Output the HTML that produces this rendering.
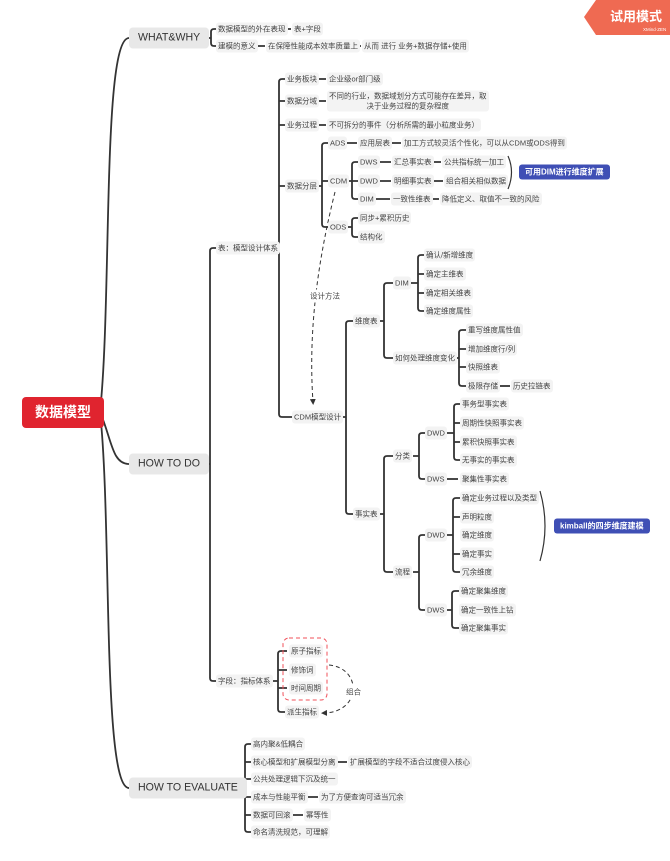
<!DOCTYPE html>
<html><head><meta charset="utf-8"><style>
html,body{margin:0;padding:0;background:#fff;}
#c{position:relative;width:670px;height:861px;overflow:hidden;font-family:"Liberation Sans","Noto Sans CJK SC",sans-serif;}
svg{position:absolute;left:0;top:0;}
.n{position:absolute;transform:translateY(-50%);font-size:7.5px;line-height:13px;padding:0 2px;background:#f3f3f3;border-radius:3px;color:#444;white-space:nowrap;}
.m{position:absolute;transform:translateY(-50%);font-size:10.6px;line-height:21px;padding:0 9px;background:#e8e8e8;border-radius:4px;color:#333;white-space:nowrap;}
.b{position:absolute;transform:translateY(-50%);font-size:8px;font-weight:bold;line-height:15px;padding:0 6px;background:#3f4fb5;border-radius:3px;color:#fff;white-space:nowrap;}
</style></head><body><div id="c">
<svg width="670" height="861" viewBox="0 0 670 861">
<defs><marker id="ar" markerWidth="6" markerHeight="6" refX="3" refY="3" orient="auto"><path d="M0,0 L6,3 L0,6 z" fill="#333"/></marker></defs>
<g fill="none" stroke="#333" stroke-width="1.8">
<path d="M100 412 C112 300,102 38,129 38"/>
<path d="M100 412 C112 440,112 464,129 464"/>
<path d="M100 412 C112 520,102 788,129 788"/>
<path d="M204 38 H211 M216 29 H214 Q211 29 211 32 V43 Q211 46 214 46 H216"/>
<path d="M278 29 H291 M251 46 H265 M348 46 H361"/>
<path d="M205 464 H210 M216 248 H213 Q210 248 210 251 V678 Q210 681 213 681 H216"/>
<path d="M274 248 H279 M285 79 H282 Q279 79 279 82 V414 Q279 417 282 417 H292 M279 101 H285 M279 125 H285 M279 186 H285"/>
<path d="M315 79 H326 M315 101 H326 M315 125 H326"/>
<path d="M316 186 H322 M328 143 H325 Q322 143 322 146 V224 Q322 227 325 227 H328 M322 181 H328"/>
<path d="M343 143 H357 M390 143 H401"/>
<path d="M346 181 H352 M358 162 H355 Q352 162 352 165 V196 Q352 199 355 199 H358 M352 181 H358"/>
<path d="M378 162 H391 M431 162 H441 M378 181 H391 M431 181 H443 M374 199 H390 M430 199 H439"/>
<path d="M346 227 H352 M358 218 H355 Q352 218 352 221 V234 Q352 237 355 237 H358"/>
<path d="M340 417 H346 M353 321 H349 Q346 321 346 324 V511 Q346 514 349 514 H353"/>
<path d="M378 321 H384 M393 283 H387 Q384 283 384 286 V355 Q384 358 387 358 H393"/>
<path d="M410 283 H418 M424 255 H421 Q418 255 418 258 V308 Q418 311 421 311 H424 M418 274 H424 M418 293 H424"/>
<path d="M452 358 H459 M466 330 H462 Q459 330 459 333 V383 Q459 386 462 386 H466 M459 349 H466 M459 367 H466"/>
<path d="M499 386 H510"/>
<path d="M378 514 H384 M393 456 H387 Q384 456 384 459 V569 Q384 572 387 572 H393"/>
<path d="M413 456 H419 M425 433 H422 Q419 433 419 436 V476 Q419 479 422 479 H425"/>
<path d="M446 433 H454 M460 404 H457 Q454 404 454 407 V457 Q454 460 457 460 H460 M454 423 H460 M454 442 H460"/>
<path d="M446 479 H458"/>
<path d="M413 572 H419 M425 535 H422 Q419 535 419 538 V607 Q419 610 422 610 H425"/>
<path d="M446 535 H453 M460 498 H456 Q453 498 453 501 V569 Q453 572 456 572 H460 M453 517 H460 M453 554 H460"/>
<path d="M445 610 H452 M459 591 H455 Q452 591 452 594 V625 Q452 628 455 628 H459"/>
<path d="M272 681 H278 M287 651 H281 Q278 651 278 654 V709 Q278 712 281 712 H285 M278 670 H287 M278 688 H287"/>
<path d="M238 788 H245 M251 744 H248 Q245 744 245 747 V829 Q245 832 248 832 H251 M245 762 H251 M245 779 H251 M245 797 H251 M245 815 H251"/>
<path d="M334 762 H347 M304 797 H318 M291 815 H303"/>
</g>
<g fill="none" stroke="#333" stroke-width="1.2">
<path d="M508 156 Q515 172 508 189"/>
<path d="M540 491 Q550 526 540 561"/>
</g>
<path d="M335 192 C318 260,308 330,313 402" fill="none" stroke="#333" stroke-width="1" stroke-dasharray="4,3" marker-end="url(#ar)"/>
<path d="M329 665 C362 668,362 712,324 713" fill="none" stroke="#333" stroke-width="1" stroke-dasharray="4,3" marker-end="url(#ar)"/>
<rect x="283" y="638" width="44" height="62" rx="6" fill="none" stroke="#f0505a" stroke-width="1" stroke-dasharray="4,3"/>
<path d="M596 0 H670 V35 H596 L584 17 Z" fill="#ef6a52"/>
<text x="610" y="21" font-size="13" fill="#fff" font-family="Noto Sans CJK SC,sans-serif" font-weight="bold">试用模式</text>
<text x="643" y="31" font-size="4.5" fill="#fff" font-family="Liberation Sans,sans-serif">XMind·ZEN</text>
</svg>
<div style="position:absolute;left:22px;top:397px;width:82px;height:31px;background:#e0242f;border-radius:4px;color:#fff;font-weight:bold;font-size:14px;line-height:31px;text-align:center;font-family:'Noto Sans CJK SC',sans-serif;">数据模型</div>
<div class="m" style="left:129px;top:38px">WHAT&amp;WHY</div>
<div class="m" style="left:129px;top:464px">HOW TO DO</div>
<div class="m" style="left:129px;top:788px">HOW TO EVALUATE</div>

<div class="n" style="left:216px;top:29px">数据模型的外在表现</div>
<div class="n" style="left:292px;top:29px">表+字段</div>
<div class="n" style="left:216px;top:46px">建模的意义</div>
<div class="n" style="left:266px;top:46px">在保障性能成本效率质量上</div>
<div class="n" style="left:362px;top:46px">从而 进行 业务+数据存储+使用</div>

<div class="n" style="left:216px;top:248px">表：模型设计体系</div>
<div class="n" style="left:285px;top:79px">业务板块</div>
<div class="n" style="left:327px;top:79px">企业级or部门级</div>
<div class="n" style="left:285px;top:101px">数据分域</div>
<div class="n" style="left:327px;top:101px;line-height:9.5px;padding:1px 2px;text-align:center">不同的行业，数据域划分方式可能存在差异，取<br>决于业务过程的复杂程度</div>
<div class="n" style="left:285px;top:125px">业务过程</div>
<div class="n" style="left:327px;top:125px">不可拆分的事件（分析所需的最小粒度业务）</div>
<div class="n" style="left:285px;top:186px">数据分层</div>
<div class="n" style="left:328px;top:143px">ADS</div>
<div class="n" style="left:358px;top:143px">应用层表</div>
<div class="n" style="left:402px;top:143px">加工方式较灵活个性化，可以从CDM或ODS得到</div>
<div class="n" style="left:328px;top:181px">CDM</div>
<div class="n" style="left:358px;top:162px">DWS</div>
<div class="n" style="left:392px;top:162px">汇总事实表</div>
<div class="n" style="left:442px;top:162px">公共指标统一加工</div>
<div class="n" style="left:358px;top:181px">DWD</div>
<div class="n" style="left:392px;top:181px">明细事实表</div>
<div class="n" style="left:444px;top:181px">组合相关相似数据</div>
<div class="n" style="left:358px;top:199px">DIM</div>
<div class="n" style="left:391px;top:199px">一致性维表</div>
<div class="n" style="left:440px;top:199px">降低定义、取值不一致的风险</div>
<div class="b" style="left:519px;top:172px">可用DIM进行维度扩展</div>
<div class="n" style="left:328px;top:227px">ODS</div>
<div class="n" style="left:358px;top:218px">同步+累积历史</div>
<div class="n" style="left:358px;top:237px">结构化</div>
<div class="n" style="left:308px;top:296px;background:#fff">设计方法</div>

<div class="n" style="left:292px;top:417px">CDM模型设计</div>
<div class="n" style="left:353px;top:321px">维度表</div>
<div class="n" style="left:393px;top:283px">DIM</div>
<div class="n" style="left:424px;top:255px">确认/新增维度</div>
<div class="n" style="left:424px;top:274px">确定主维表</div>
<div class="n" style="left:424px;top:293px">确定相关维表</div>
<div class="n" style="left:424px;top:311px">确定维度属性</div>
<div class="n" style="left:393px;top:358px">如何处理维度变化</div>
<div class="n" style="left:466px;top:330px">重写维度属性值</div>
<div class="n" style="left:466px;top:349px">增加维度行/列</div>
<div class="n" style="left:466px;top:367px">快照维表</div>
<div class="n" style="left:466px;top:386px">极限存储</div>
<div class="n" style="left:511px;top:386px">历史拉链表</div>
<div class="n" style="left:353px;top:514px">事实表</div>
<div class="n" style="left:393px;top:456px">分类</div>
<div class="n" style="left:425px;top:433px">DWD</div>
<div class="n" style="left:460px;top:404px">事务型事实表</div>
<div class="n" style="left:460px;top:423px">周期性快照事实表</div>
<div class="n" style="left:460px;top:442px">累积快照事实表</div>
<div class="n" style="left:460px;top:460px">无事实的事实表</div>
<div class="n" style="left:425px;top:479px">DWS</div>
<div class="n" style="left:460px;top:479px">聚集性事实表</div>
<div class="n" style="left:393px;top:572px">流程</div>
<div class="n" style="left:425px;top:535px">DWD</div>
<div class="n" style="left:460px;top:498px">确定业务过程以及类型</div>
<div class="n" style="left:460px;top:517px">声明粒度</div>
<div class="n" style="left:460px;top:535px">确定维度</div>
<div class="n" style="left:460px;top:554px">确定事实</div>
<div class="n" style="left:460px;top:572px">冗余维度</div>
<div class="n" style="left:425px;top:610px">DWS</div>
<div class="n" style="left:459px;top:591px">确定聚集维度</div>
<div class="n" style="left:459px;top:610px">确定一致性上钻</div>
<div class="n" style="left:459px;top:628px">确定聚集事实</div>
<div class="b" style="left:554px;top:526px">kimball的四步维度建模</div>

<div class="n" style="left:216px;top:681px">字段：指标体系</div>
<div class="n" style="left:289px;top:651px">原子指标</div>
<div class="n" style="left:289px;top:670px">修饰词</div>
<div class="n" style="left:289px;top:688px">时间周期</div>
<div class="n" style="left:285px;top:712px">派生指标</div>
<div class="n" style="left:344px;top:692px;background:#fff">组合</div>

<div class="n" style="left:251px;top:744px">高内聚&amp;低耦合</div>
<div class="n" style="left:251px;top:762px">核心模型和扩展模型分离</div>
<div class="n" style="left:348px;top:762px">扩展模型的字段不适合过度侵入核心</div>
<div class="n" style="left:251px;top:779px">公共处理逻辑下沉及统一</div>
<div class="n" style="left:251px;top:797px">成本与性能平衡</div>
<div class="n" style="left:319px;top:797px">为了方便查询可适当冗余</div>
<div class="n" style="left:251px;top:815px">数据可回滚</div>
<div class="n" style="left:304px;top:815px">幂等性</div>
<div class="n" style="left:251px;top:832px">命名清洗规范，可理解</div>
</div></body></html>
